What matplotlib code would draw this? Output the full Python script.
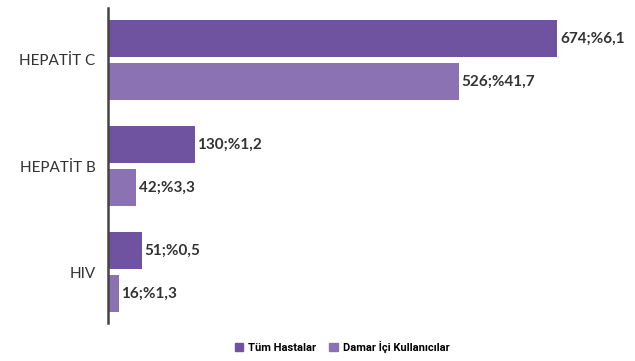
import matplotlib
matplotlib.use('Agg')
import matplotlib.pyplot as plt
import numpy as np
from matplotlib.patches import Patch

# Veriler
kategoriler = ['HEPATİT C', 'HEPATİT B', 'HIV']
tum_hastalar = [674, 130, 51]
tum_yuzde = ['6,1', '1,2', '0,5']
damar_ici = [526, 42, 16]
damar_yuzde = ['41,7', '3,3', '1,3']
seri_adlari = ['Tüm Hastalar', 'Damar İçi Kullanıcılar']

renk_koyu = '#6f53a1'
renk_acik = '#8a72b3'

plt.rcParams['font.family'] = ['Lato', 'DejaVu Sans']

fig = plt.figure(figsize=(6.35, 3.61), dpi=100)
ax = fig.add_axes([108 / 635, 1 - 323 / 361, 1 - 108 / 635 - 0.015, 315 / 361])

y = np.arange(len(kategoriler))
h = 0.35
off = 0.203

ax.barh(y - off, tum_hastalar, height=h, color=renk_koyu)
ax.barh(y + off, damar_ici, height=h, color=renk_acik)

# Değer etiketleri: sayı;%yüzde
for i in range(len(kategoriler)):
    ax.text(tum_hastalar[i] + 4, y[i] - off, f'{tum_hastalar[i]};%{tum_yuzde[i]}',
            va='center', ha='left', fontsize=11, fontweight='bold', color='#333333')
    ax.text(damar_ici[i] + 4, y[i] + off, f'{damar_ici[i]};%{damar_yuzde[i]}',
            va='center', ha='left', fontsize=11, fontweight='bold', color='#333333')

ax.set_ylim(2.48, -0.49)
ax.set_xlim(0, 674 * 517 / 449)
ax.set_yticks(y)
ax.set_yticklabels(kategoriler, fontsize=11, color='#333333')
ax.tick_params(axis='y', length=0, pad=9)
ax.set_xticks([])
for s in ['top', 'right', 'bottom']:
    ax.spines[s].set_visible(False)
ax.spines['left'].set_color('#444444')
ax.spines['left'].set_linewidth(1.8)

handles = [Patch(color=renk_koyu, label=seri_adlari[0]),
           Patch(color=renk_acik, label=seri_adlari[1])]
fig.legend(handles=handles, loc='center', bbox_to_anchor=(342 / 635, 1 - 347 / 361),
           ncol=2, frameon=False, handlelength=0.8, handleheight=0.8,
           handletextpad=0.4, columnspacing=1.2,
           prop={'size': 8, 'weight': 'bold', 'family': ['Roboto', 'DejaVu Sans']})

fig.savefig('out.png', dpi=100)
